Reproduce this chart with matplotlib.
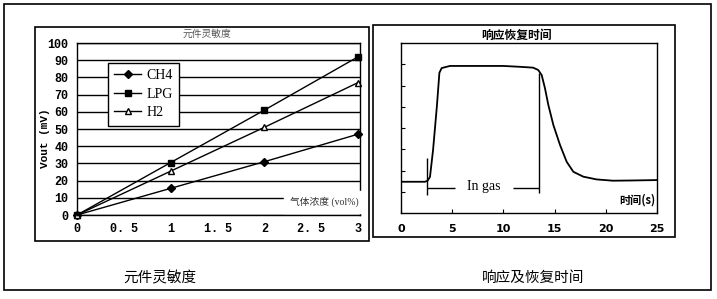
import matplotlib
matplotlib.use("Agg")
import matplotlib.pyplot as plt
from matplotlib.patches import Rectangle

# left chart: sensitivity
conc = [0, 1, 2, 3]
ch4 = [0, 15.5, 31, 47]
lpg = [0, 30.5, 61, 92]
h2 = [0, 25.5, 51, 77]
conc_ticks = [0, 0.5, 1, 1.5, 2, 2.5, 3]
conc_labels = ["0", "0. 5", "1", "1. 5", "2", "2. 5", "3"]

# right chart: response / recovery curve
t = [0, 2.34, 2.6, 2.83, 3.13, 3.5, 3.75, 3.97, 4.78, 6, 8, 10, 11.6, 12.9,
     13.4, 13.74, 14.06, 14.39, 14.88, 15.53, 16.18, 16.83, 17.8, 19.1, 20.7,
     22.5, 25]
resp = [1.47, 1.47, 1.52, 1.7, 2.96, 5.0, 6.6, 6.82, 6.92, 6.92, 6.92, 6.92,
        6.88, 6.84, 6.73, 6.49, 5.87, 5.08, 4.14, 3.2, 2.41, 1.94, 1.71, 1.58,
        1.52, 1.53, 1.55]
gas_on, gas_off = 2.5, 13.5

W, H = 717, 299
SERIF = ["Liberation Serif", "Noto Sans CJK SC"]
CJK = ["Noto Sans CJK SC", "DejaVu Sans"]


def px_rect(x0, y0, x1, y1):
    return [x0 / W, 1 - y1 / H, (x1 - x0) / W, (y1 - y0) / H]


fig = plt.figure(figsize=(W / 100, H / 100), dpi=100)

# outer border and the two chart frames
for x0, y0, x1, y1 in [(4, 4, 711, 290), (35, 27, 369, 241), (373, 25, 675, 237)]:
    r = px_rect(x0, y0, x1, y1)
    fig.add_artist(Rectangle((r[0], r[1]), r[2], r[3], transform=fig.transFigure,
                             fill=False, edgecolor="black", lw=1.2))

# ---- left chart ----
ax = fig.add_axes(px_rect(77, 43, 360, 215))
ax.plot(conc, ch4, color="black", lw=1, marker="D", ms=4, label="CH4", clip_on=False)
ax.plot(conc, lpg, color="black", lw=1, marker="s", ms=5, label="LPG", clip_on=False)
ax.plot(conc, h2, color="black", lw=1, marker="^", ms=5, mfc="white", label="H2",
        clip_on=False)
ax.set_xlim(0, 3.02)
ax.set_ylim(0, 100)
ax.set_yticks(range(0, 101, 10))
ax.set_xticks(conc_ticks)
ax.set_xticklabels(conc_labels)
ax.grid(axis="y", color="black", lw=1)
ax.set_axisbelow(True)
ax.tick_params(length=0, labelsize=8.5, pad=6)
for lab in ax.get_xticklabels() + ax.get_yticklabels():
    lab.set_family("Liberation Mono")
    lab.set_fontweight("bold")
for s in ax.spines.values():
    s.set_linewidth(1)
leg = ax.legend(loc="upper left", bbox_to_anchor=(0.11, 0.884), borderaxespad=0,
                frameon=True, fancybox=False, edgecolor="black", framealpha=1,
                handlelength=1.9, handletextpad=0.4, borderpad=0.45,
                labelspacing=0.4, prop={"family": SERIF, "size": 10})
leg.get_frame().set_linewidth(1)
ax.text(3.0, 7.5, "气体浓度 (vol%)", ha="right", va="center", fontsize=7,
        family=SERIF, color="#333333", backgroundcolor="white")
fig.text(207 / W, 1 - 34 / H, "元件灵敏度", ha="center", va="center", fontsize=7,
         family=CJK, color="#555555")
fig.text(45 / W, 1 - 138 / H, "Vout (mV)", rotation=90, ha="center", va="center",
         fontsize=8, family="Liberation Mono", fontweight="bold")

# ---- right chart ----
bx = fig.add_axes(px_rect(401, 43, 657, 213))
bx.plot(t, resp, color="black", lw=1.3)
bx.set_xlim(0, 25)
bx.set_ylim(0, 8)
bx.set_xticks([0, 5, 10, 15, 20, 25])
bx.set_yticks(range(1, 8))
bx.set_yticklabels([])
bx.tick_params(direction="in", length=3, labelsize=8, pad=8)
for lab in bx.get_xticklabels():
    lab.set_fontweight("bold")
for s in bx.spines.values():
    s.set_linewidth(1)
bx.vlines(gas_on, 0.85, 2.6, color="black", lw=1)
bx.vlines(gas_off, 0.94, 6.59, color="black", lw=1)
bx.hlines(1.18, gas_on, 5.3, color="black", lw=1)
bx.hlines(1.18, 10.9, gas_off, color="black", lw=1)
bx.text(8.1, 1.25, "In gas", ha="center", va="center", fontsize=10, family=SERIF)
bx.text(24.9, 0.6, "时间(s)", ha="right", va="center", fontsize=8, family=CJK,
        fontweight="bold")
fig.text(517 / W, 1 - 35 / H, "响应恢复时间", ha="center", va="center", fontsize=8.5,
         family=CJK, fontweight="bold")

# captions
fig.text(160 / W, 1 - 278 / H, "元件灵敏度", ha="center", va="center", fontsize=10.5,
         family=CJK)
fig.text(533 / W, 1 - 278 / H, "响应及恢复时间", ha="center", va="center",
         fontsize=10.5, family=CJK)

fig.savefig("out.png", dpi=100)
